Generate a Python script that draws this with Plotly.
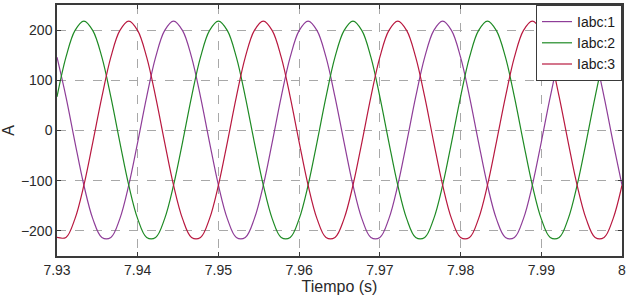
import plotly.graph_objects as go

# sample times (s)
t = [7.93, 7.93111, 7.93222, 7.93333, 7.93444, 7.93556, 7.93667, 7.93778, 7.93889,
     7.94, 7.94111, 7.94222, 7.94333, 7.94444, 7.94556, 7.94667, 7.94778, 7.94889,
     7.95, 7.95111, 7.95222, 7.95333, 7.95444, 7.95556, 7.95667, 7.95778, 7.95889,
     7.96, 7.96111, 7.96222, 7.96333, 7.96444, 7.96556, 7.96667, 7.96778, 7.96889,
     7.97, 7.97111, 7.97222, 7.97333, 7.97444, 7.97556, 7.97667, 7.97778, 7.97889,
     7.98, 7.98111, 7.98222, 7.98333, 7.98444, 7.98556, 7.98667, 7.98778, 7.98889,
     7.99, 7.99111, 7.99222, 7.99333, 7.99444, 7.99556, 7.99667, 7.99778, 7.99889,
     8.0]

iabc1 = [146, 67, -23, -109, -176, -213, -213, -176, -109, -23, 67, 146, 199, 218, 199,
         146, 67, -23, -109, -176, -213, -213, -176, -109, -23, 67, 146, 199, 218, 199,
         146, 67, -23, -109, -176, -213, -213, -176, -109, -23, 67, 146, 199, 218, 199,
         146, 67, -23, -109, -176, -213, -213, -176, -109, -23, 67, 146, 199, 218, 199,
         146, 67, -23, -109]

iabc2 = [67, 146, 199, 218, 199, 146, 67, -23, -109, -176, -213, -213, -176, -109, -23,
         67, 146, 199, 218, 199, 146, 67, -23, -109, -176, -213, -213, -176, -109, -23,
         67, 146, 199, 218, 199, 146, 67, -23, -109, -176, -213, -213, -176, -109, -23,
         67, 146, 199, 218, 199, 146, 67, -23, -109, -176, -213, -213, -176, -109, -23,
         67, 146, 199, 218]

iabc3 = [-213, -213, -176, -109, -23, 67, 146, 199, 218, 199, 146, 67, -23, -109, -176,
         -213, -213, -176, -109, -23, 67, 146, 199, 218, 199, 146, 67, -23, -109, -176,
         -213, -213, -176, -109, -23, 67, 146, 199, 218, 199, 146, 67, -23, -109, -176,
         -213, -213, -176, -109, -23, 67, 146, 199, 218, 199, 146, 67, -23, -109, -176,
         -213, -213, -176, -109]

series_names = ["Iabc:1", "Iabc:2", "Iabc:3"]
colors = ["#8e3d98", "#1e8a24", "#b8183f"]

x_tickvals = [7.93, 7.94, 7.95, 7.96, 7.97, 7.98, 7.99, 8.0]
x_ticktext = ["7.93", "7.94", "7.95", "7.96", "7.97", "7.98", "7.99", "8"]
y_tickvals = [-200, -100, 0, 100, 200]

FONT = "Liberation Sans, Arial, sans-serif"

fig = go.Figure()
for name, y, c in zip(series_names, [iabc1, iabc2, iabc3], colors):
    fig.add_trace(go.Scatter(x=t, y=y, mode="lines", name=name,
                             line=dict(color=c, width=1.2, shape="spline", smoothing=1.0)))

axis_common = dict(showline=True, mirror="ticks", linecolor="#3a3a3a", linewidth=1.5,
                   ticks="inside", ticklen=4, tickcolor="#3a3a3a",
                   showgrid=True, gridcolor="#a8a8a8", griddash="dash", gridwidth=1,
                   zeroline=False,
                   tickfont=dict(family=FONT, size=14, color="#2a2a2a"))

fig.update_xaxes(range=[7.93, 8.0], tickvals=x_tickvals, ticktext=x_ticktext,
                 title=dict(text="Tiempo (s)", standoff=3,
                            font=dict(family=FONT, size=16, color="#2a2a2a")),
                 **axis_common)
fig.update_yaxes(range=[-250, 250], tickvals=y_tickvals,
                 title=dict(text="A", standoff=14,
                            font=dict(family=FONT, size=16, color="#2a2a2a")),
                 **axis_common)

fig.update_layout(
    width=629, height=302,
    margin=dict(l=57, r=7, t=5, b=46, autoexpand=False),
    paper_bgcolor="white", plot_bgcolor="white",
    legend=dict(x=1, y=1, xanchor="right", yanchor="top",
                bgcolor="white", bordercolor="#3a3a3a", borderwidth=1,
                font=dict(family=FONT, size=14, color="#1a1a1a"),
                tracegroupgap=0, itemwidth=30),
    showlegend=True,
)

fig.write_html("out.html", config={"displayModeBar": False},
               post_script="document.body.style.margin='0';document.body.style.padding='0';")
